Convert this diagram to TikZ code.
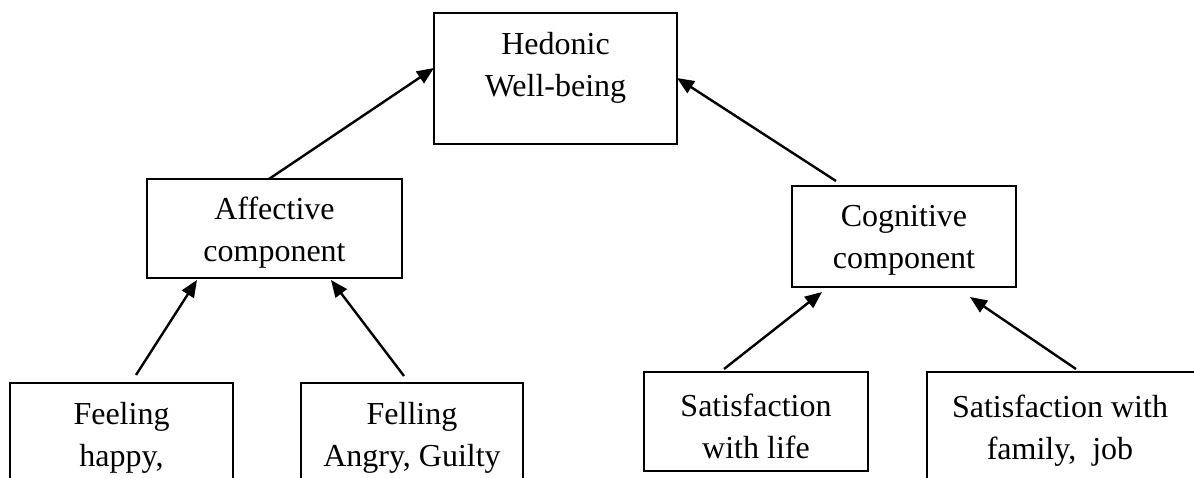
\documentclass[tikz,border=0pt]{standalone}
\usepackage{fontspec}
\setmainfont{Liberation Serif}
\usetikzlibrary{calc,arrows.meta}
\begin{document}
\begin{tikzpicture}[x=1pt,y=-1pt,
  boxnode/.style={draw,rectangle,line width=2.6pt,inner sep=0pt,outer sep=0pt},
  txt/.style={align=center,inner sep=0pt,font=\fontsize{32}{42}\selectfont},
  conn/.style={line width=2.4pt,-{Triangle[length=17pt,width=14pt]}}]
\useasboundingbox (0,0) rectangle (1194,478);
\clip (0,0) rectangle (1194,478);
% boxes
\node[boxnode,minimum width=243pt,minimum height=131pt] (hed) at (555.5,78.5) {};
\node[boxnode,minimum width=255pt,minimum height=99pt] (aff) at (274.5,228.5) {};
\node[boxnode,minimum width=224pt,minimum height=101pt] (cog) at (904,236.5) {};
\node[boxnode,minimum width=223pt,minimum height=137pt] (feel) at (121.5,451.5) {};
\node[boxnode,minimum width=222pt,minimum height=137pt] (fell) at (412,451.5) {};
\node[boxnode,minimum width=224pt,minimum height=99pt] (sl) at (756,421.5) {};
\node[boxnode,minimum width=303pt,minimum height=148pt] (sf) at (1078.5,446) {};
% texts
\node[txt] (hedt) at (555.5,68) {Hedonic\\Well-being};
\node[txt] (afft) at (274.5,233) {Affective\\component};
\node[txt] (cogt) at (904,240) {Cognitive\\component};
\node[txt] (feelt) at (121.5,438) {Feeling\\happy,};
\node[txt] (fellt) at (412,438) {Felling\\Angry, Guilty};
\node[txt] (slt) at (756,426) {Satisfaction\\with life};
\node[txt] (sft) at (1060,431) {Satisfaction with\\family,\ \ job};
% connectors
\draw[conn] ($(aff.north west)+(122,0)$) -- ($(hed.north west)+(0,55)$);
\draw[conn] ($(cog.north west)+(44,-5)$) -- ($(hed.north east)+(0,65)$);
\draw[conn] ($(feel.north west)+(126,-8)$) -- ($(aff.south west)+(50,2)$);
\draw[conn] ($(fell.north west)+(103,-7)$) -- ($(aff.south west)+(184,2)$);
\draw[conn] ($(sl.north west)+(80,-3)$) -- ($(cog.south west)+(30,5)$);
\draw[conn] ($(sf.north west)+(149,-3)$) -- ($(cog.south west)+(178,10)$);
\end{tikzpicture}
\end{document}
